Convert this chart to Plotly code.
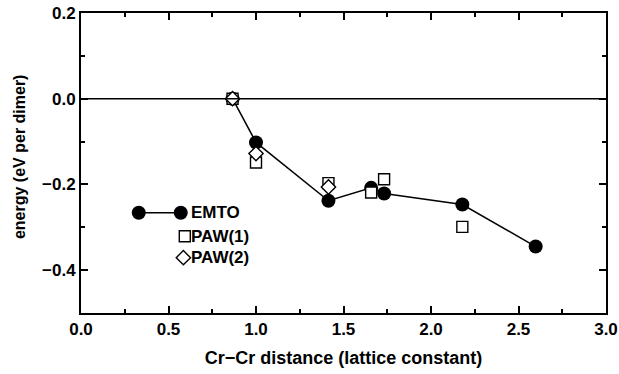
import plotly.graph_objects as go

# data
emto_x = [0.866, 1.0, 1.414, 1.658, 1.732, 2.179, 2.598]
emto_y = [0.0, -0.102, -0.238, -0.208, -0.221, -0.247, -0.345]
paw1_x = [0.866, 1.0, 1.414, 1.658, 1.732, 2.179]
paw1_y = [0.0, -0.149, -0.197, -0.219, -0.188, -0.299]
paw2_x = [0.866, 1.0, 1.414]
paw2_y = [0.0, -0.128, -0.206]
legend_labels = ["EMTO", "PAW(1)", "PAW(2)"]

FONT = "Liberation Sans"
FS = 17
fig = go.Figure()

# zero line
fig.add_shape(type="line", xref="paper", x0=0, x1=1, yref="y", y0=0, y1=0,
              line=dict(color="black", width=1.6))

SQ = dict(symbol="square", size=11, color="white", line=dict(width=1.4, color="black"))
DM = dict(symbol="diamond", size=11, color="white", line=dict(width=1.4, color="black"))
CI = dict(symbol="circle", size=14, color="black")

fig.add_trace(go.Scatter(x=emto_x, y=emto_y, mode="lines+markers", name=legend_labels[0],
                         line=dict(color="black", width=1.5), marker=CI, showlegend=False))
fig.add_trace(go.Scatter(x=paw1_x, y=paw1_y, mode="markers", name=legend_labels[1],
                         marker=SQ, showlegend=False))
fig.add_trace(go.Scatter(x=paw2_x, y=paw2_y, mode="markers", name=legend_labels[2],
                         marker=DM, showlegend=False))

# manual legend (decoration)
leg_y = [-0.266, -0.321, -0.371]
fig.add_trace(go.Scatter(x=[0.33, 0.57], y=[leg_y[0], leg_y[0]], mode="lines+markers",
                         line=dict(color="black", width=1.5), marker=CI,
                         showlegend=False, hoverinfo="skip"))
fig.add_trace(go.Scatter(x=[0.593], y=[leg_y[1]], mode="markers", marker=SQ,
                         showlegend=False, hoverinfo="skip"))
fig.add_trace(go.Scatter(x=[0.585], y=[leg_y[2]], mode="markers", marker=DM,
                         showlegend=False, hoverinfo="skip"))
for lab, yy in zip(legend_labels, leg_y):
    fig.add_annotation(x=0.615, y=yy, text=lab, showarrow=False, xanchor="left",
                       yanchor="middle", font=dict(family=FONT, size=FS, color="black",
                                                   weight="bold"))

# y-axis title as annotation
fig.add_annotation(xref="paper", yref="paper", x=-0.118, y=0.52, text="energy (eV per dimer)",
                   textangle=-90, showarrow=False, xanchor="center", yanchor="middle",
                   font=dict(family=FONT, size=16, color="black", weight="bold"))

axis_common = dict(showline=True, linecolor="black", linewidth=2, mirror="ticks",
                   ticks="inside", ticklen=7, tickwidth=1.5, tickcolor="black",
                   showgrid=False, zeroline=False, automargin=False,
                   tickfont=dict(family=FONT, size=FS, color="black", weight="bold"))

fig.update_xaxes(range=[0, 3], dtick=0.5, tick0=0, tickformat=".1f",
                 minor=dict(dtick=0.25, ticks="inside", ticklen=4, tickwidth=1.5,
                            tickcolor="black"),
                 title=dict(text="Cr\u2212Cr distance (lattice constant)", standoff=13,
                            font=dict(family=FONT, size=18, color="black", weight="bold")),
                 **axis_common)
fig.update_yaxes(range=[-0.5, 0.2], dtick=0.2, tick0=0, tickformat=".1f",
                 minor=dict(dtick=0.1, ticks="inside", ticklen=4, tickwidth=1.5,
                            tickcolor="black"),
                 **axis_common)

fig.update_layout(width=619, height=374, margin=dict(l=81, r=13, t=13, b=61),
                  plot_bgcolor="white", paper_bgcolor="white")

fig.write_html("out.html")
